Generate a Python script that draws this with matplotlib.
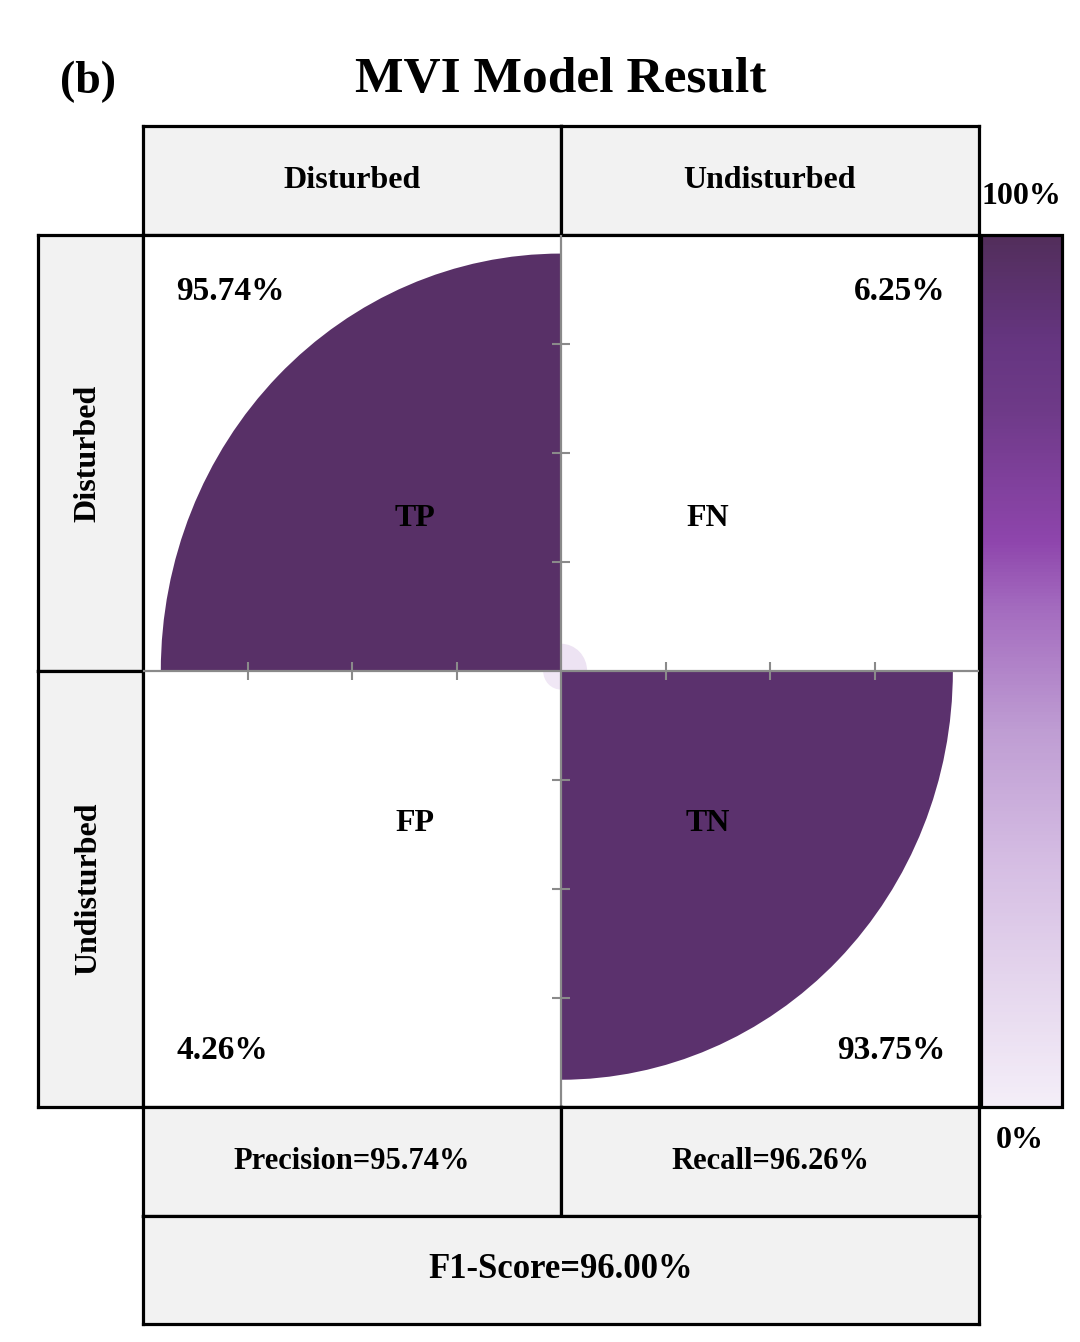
import matplotlib
matplotlib.use("Agg")
import matplotlib.pyplot as plt
from matplotlib.patches import Wedge
from matplotlib.colors import LinearSegmentedColormap
from matplotlib.colorbar import ColorbarBase
from matplotlib.colors import Normalize

plt.rcParams["font.family"] = ["Liberation Serif", "DejaVu Serif"]
plt.rcParams["font.weight"] = "bold"

# confusion matrix shares (row-normalised) and summary scores
class_names = ["Disturbed", "Undisturbed"]
cell_names = ["TP", "FN", "FP", "TN"]
cell_values = [0.9574, 0.0625, 0.0426, 0.9375]
cell_labels = ["95.74%", "6.25%", "4.26%", "93.75%"]
precision = "95.74%"
recall = "96.26%"
f1_score = "96.00%"

W, H = 1080, 1342
BORDER = "black"
HEAD_BG = "#f2f2f2"
GRID = "#8a8a8a"

cmap = LinearSegmentedColormap.from_list("mvi_purple", [
    (0.00, "#f4eef8"), (0.13, "#e6d8ee"), (0.28, "#d5bde3"), (0.43, "#bf9dd3"),
    (0.57, "#a46cbf"), (0.65, "#8e45ac"), (0.80, "#6e3a88"), (0.88, "#653580"),
    (1.00, "#522e5b"),
])


def box(fig, x0, y0, x1, y1, face=HEAD_BG, lw=2.3):
    ax = fig.add_axes([x0 / W, 1 - y1 / H, (x1 - x0) / W, (y1 - y0) / H])
    ax.set_facecolor(face)
    ax.set_xticks([])
    ax.set_yticks([])
    for sp in ax.spines.values():
        sp.set_linewidth(lw)
        sp.set_color(BORDER)
    ax.set_xlim(0, 1)
    ax.set_ylim(0, 1)
    return ax


fig = plt.figure(figsize=(W / 100, H / 100), dpi=100)

fig.text(561 / W, 1 - 80 / H, "MVI Model Result", ha="center", va="center",
         fontsize=37, fontweight="bold")
fig.text(88 / W, 1 - 82 / H, "(b)", ha="center", va="center",
         fontsize=33, fontweight="bold")

# column headers
for i, name in enumerate(class_names):
    x0 = 143 + i * 418
    ax = box(fig, x0, 126, x0 + 418, 235)
    ax.text(0.5, 0.5, name, ha="center", va="center", fontsize=23, fontweight="bold")

# row headers
for i, name in enumerate(class_names):
    y0 = 235 + i * 436
    ax = box(fig, 38, y0, 143, y0 + 436)
    ax.text(0.48, 0.5, name, ha="center", va="center", rotation=90,
            fontsize=23, fontweight="bold")

# main fourfold area
ax = box(fig, 143, 235, 979, 1107, face="white")
ax.set_xlim(-1, 1)
ax.set_ylim(-1, 1)
angles = [(90, 180), (0, 90), (180, 270), (270, 360)]
for (t1, t2), v in zip(angles, cell_values):
    ax.add_patch(Wedge((0, 0), v, t1, t2, facecolor=cmap(v), edgecolor="none", zorder=2))
ax.axhline(0, color=GRID, lw=1.6, zorder=3)
ax.axvline(0, color=GRID, lw=1.6, zorder=3)
ticks = [-0.75, -0.5, -0.25, 0.25, 0.5, 0.75]
ax.plot(ticks, [0] * len(ticks), ls="none", marker="|", ms=13, mew=1.5, color=GRID, zorder=3)
ax.plot([0] * len(ticks), ticks, ls="none", marker="_", ms=13, mew=1.5, color=GRID, zorder=3)

name_pos = [(-0.35, 0.35), (0.35, 0.35), (-0.35, -0.35), (0.35, -0.35)]
for (x, y), name in zip(name_pos, cell_names):
    ax.text(x, y, name, ha="center", va="center", fontsize=23, fontweight="bold", zorder=4)
pct_pos = [(-0.92, 0.87, "left"), (0.92, 0.87, "right"),
           (-0.92, -0.87, "left"), (0.92, -0.87, "right")]
for (x, y, ha), lab in zip(pct_pos, cell_labels):
    ax.text(x, y, lab, ha=ha, va="center", fontsize=24, fontweight="bold", zorder=4)

# summary rows
ax = box(fig, 143, 1107, 561, 1216)
ax.text(0.5, 0.5, "Precision=" + precision, ha="center", va="center", fontsize=22, fontweight="bold")
ax = box(fig, 561, 1107, 979, 1216)
ax.text(0.5, 0.5, "Recall=" + recall, ha="center", va="center", fontsize=22, fontweight="bold")
ax = box(fig, 143, 1216, 979, 1324)
ax.text(0.5, 0.5, "F1-Score=" + f1_score, ha="center", va="center", fontsize=25, fontweight="bold")

# colour bar
cax = fig.add_axes([981 / W, 1 - 1107 / H, (1062 - 981) / W, (1107 - 235) / H])
cb = ColorbarBase(cax, cmap=cmap, norm=Normalize(0, 1), orientation="vertical")
cb.set_ticks([])
cb.outline.set_linewidth(2.3)
fig.text(1021 / W, 1 - 196 / H, "100%", ha="center", va="center", fontsize=23, fontweight="bold")
fig.text(1020 / W, 1 - 1141 / H, "0%", ha="center", va="center", fontsize=23, fontweight="bold")

fig.savefig("out.png", dpi=100)
plt.close(fig)
